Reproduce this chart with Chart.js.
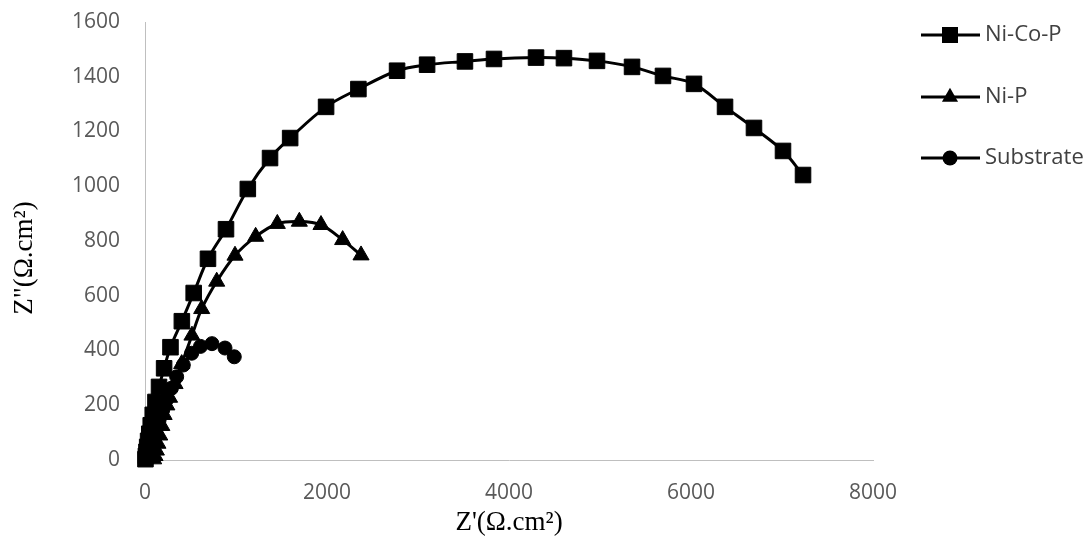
<!DOCTYPE html>
<html>
<head>
<meta charset="utf-8">
<script src="https://cdn.jsdelivr.net/npm/chart.js@4.4.1/dist/chart.umd.min.js"></script>
<style>
  body { margin: 0; background: #fff; }
  #wrap { width: 1088px; height: 547px; }
</style>
</head>
<body>
<div id="wrap"><canvas id="nyquist" width="1088" height="547"></canvas></div>
<script>
// series names
const seriesNames = ["Ni-Co-P", "Ni-P", "Substrate"];

// Ni-Co-P  (Z' , Z'')
const nicopX = [5, 10, 16, 24, 34, 47, 63, 85, 115, 154, 210, 280, 405, 535, 692, 890, 1130, 1374, 1595, 1990, 2345, 2770, 3100, 3516, 3835, 4297, 4604, 4967, 5352, 5692, 6033, 6374, 6692, 7011, 7231];
const nicopY = [3, 15, 30, 48, 70, 96, 127, 165, 212, 267, 335, 412, 507, 610, 735, 843, 990, 1103, 1176, 1290, 1355, 1422, 1444, 1456, 1465, 1470, 1468, 1458, 1436, 1403, 1374, 1290, 1213, 1129, 1041];

// Ni-P
const nipX = [95, 110, 125, 142, 162, 185, 210, 240, 270, 330, 403, 516, 623, 788, 989, 1216, 1454, 1696, 1934, 2172, 2374];
const nipY = [3, 15, 35, 60, 90, 125, 165, 200, 228, 278, 351, 455, 552, 652, 747, 816, 863, 871, 859, 804, 748];

// Substrate
const subX = [18, 30, 45, 65, 90, 120, 155, 195, 240, 290, 348, 421, 513, 610, 736, 879, 981];
const subY = [6, 18, 35, 56, 82, 112, 146, 183, 222, 262, 304, 347, 390, 415, 425, 409, 377];

// axis ticks
const xTicks = [0, 2000, 4000, 6000, 8000];
const yTicks = [0, 200, 400, 600, 800, 1000, 1200, 1400, 1600];

const toPoints = (xs, ys) => xs.map((x, i) => ({ x: x, y: ys[i] }));

const styles = ["rect", "triangle", "circle"];
const radii = [11, 9.3, 7];

// draws the legend on the right, line with marker like Excel
const legendPlugin = {
  id: "sideLegend",
  afterDraw(chart) {
    const ctx = chart.ctx;
    const rows = [35, 97, 158];
    ctx.save();
    seriesNames.forEach((name, i) => {
      const y = rows[i];
      ctx.strokeStyle = "#000";
      ctx.lineWidth = 3;
      ctx.beginPath();
      ctx.moveTo(921, y);
      ctx.lineTo(980, y);
      ctx.stroke();
      ctx.fillStyle = "#000";
      ctx.beginPath();
      const cx = 950;
      if (styles[i] === "rect") {
        ctx.rect(cx - 8, y - 8, 16, 16);
      } else if (styles[i] === "triangle") {
        const r = radii[1];
        ctx.moveTo(cx, y - r);
        ctx.lineTo(cx + r * 0.866, y + r * 0.5);
        ctx.lineTo(cx - r * 0.866, y + r * 0.5);
        ctx.closePath();
      } else {
        ctx.arc(cx, y, 7.5, 0, Math.PI * 2);
      }
      ctx.fill();
      ctx.fillStyle = "#404040";
      ctx.font = '22px "Open Sans"';
      ctx.textAlign = "left";
      ctx.textBaseline = "middle";
      ctx.fillText(name, 985, y);
    });
    // y axis title
    ctx.translate(25, 258);
    ctx.rotate(-Math.PI / 2);
    ctx.fillStyle = "#000";
    ctx.font = '27px "Liberation Serif"';
    ctx.textAlign = "center";
    ctx.textBaseline = "middle";
    ctx.fillText('Z"(\u03A9.cm\u00B2)', 0, 0);
    ctx.restore();
  }
};

const makeSet = (i, xs, ys) => ({
  label: seriesNames[i],
  data: toPoints(xs, ys),
  showLine: true,
  tension: 0.35,
  borderColor: "#000",
  backgroundColor: "#000",
  borderWidth: 3,
  pointStyle: styles[i],
  pointRadius: radii[i],
  pointHoverRadius: radii[i],
  pointBorderWidth: 1,
  pointBackgroundColor: "#000",
  pointBorderColor: "#000",
  clip: false,
  order: 3 - i
});

new Chart(document.getElementById("nyquist"), {
  type: "scatter",
  data: {
    datasets: [
      makeSet(0, nicopX, nicopY),
      makeSet(1, nipX, nipY),
      makeSet(2, subX, subY)
    ]
  },
  options: {
    responsive: false,
    animation: false,
    layout: { padding: { top: 22, right: 215, left: 0, bottom: 0 } },
    plugins: { legend: { display: false }, tooltip: { enabled: false } },
    scales: {
      x: {
        type: "linear",
        min: 0,
        max: 8000,
        afterBuildTicks: (s) => { s.ticks = xTicks.map((v) => ({ value: v })); },
        afterFit: (s) => { s.height = 87; },
        // tick marks not drawn (grid hidden), tickLength only spaces the labels
        grid: { display: false, drawTicks: true, tickLength: 20 },
        border: { display: true, color: "#bfbfbf", width: 1 },
        ticks: { color: "#595959", font: { family: "Open Sans", size: 21 }, padding: 0, maxRotation: 0, callback: (v) => String(v) },
        title: {
          display: true,
          text: "Z'(\u03A9.cm\u00B2)",
          color: "#000",
          font: { family: "Liberation Serif", size: 27 },
          padding: { top: 0, bottom: 8 }
        }
      },
      y: {
        type: "linear",
        min: 0,
        max: 1600,
        afterBuildTicks: (s) => { s.ticks = yTicks.map((v) => ({ value: v })); },
        afterFit: (s) => { s.width = 145; },
        grid: { display: false, drawTicks: true, tickLength: 25 },
        border: { display: true, color: "#bfbfbf", width: 1 },
        ticks: { color: "#595959", font: { family: "Open Sans", size: 21 }, padding: 0, callback: (v) => String(v) }
      }
    }
  },
  plugins: [legendPlugin]
});
</script>
</body>
</html>
